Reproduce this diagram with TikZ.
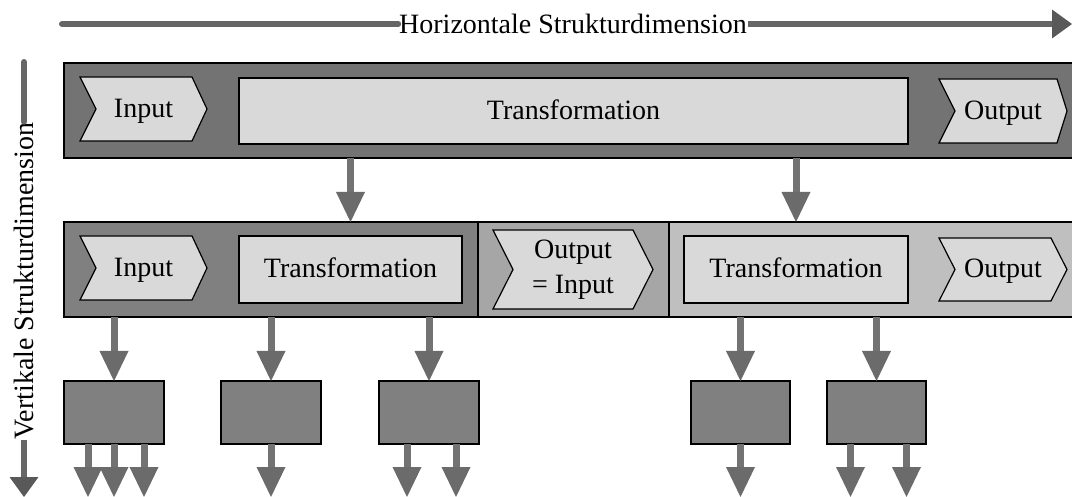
\documentclass[tikz,border=0pt]{standalone}
\usepackage{fontspec}
\setmainfont{Liberation Serif}
\usetikzlibrary{arrows.meta}

\definecolor{topband}{gray}{0.451}
\definecolor{lowband}{gray}{0.502}
\definecolor{midband}{gray}{0.651}
\definecolor{rightband}{gray}{0.749}
\definecolor{lightfill}{gray}{0.851}
\definecolor{flowgray}{gray}{0.45}
\definecolor{flowhead}{gray}{0.42}
\definecolor{axisgray}{gray}{0.40}
\definecolor{axishead}{gray}{0.35}

\tikzset{
  band/.style={draw=black, line width=1.2pt, inner sep=0pt, outer sep=0pt, anchor=north west},
  lightbox/.style={draw=black, line width=1.2pt, fill=lightfill},
  rectbox/.style={lightbox, inner sep=0pt, outer sep=0pt, anchor=north west},
  subbox/.style={draw=black, line width=1.2pt, fill=lowband, inner sep=0pt, outer sep=0pt, anchor=north west,
                 minimum width=100pt, minimum height=63pt},
  flow/.style={draw=flowgray, line width=7pt,
               -{Triangle[width=29pt,length=30pt,line width=0pt,color=flowhead]}},
  axisline/.style={draw=axisgray, line width=6pt},
  axisarrow/.style={axisline, -{Triangle[width=29pt,length=20pt,line width=0pt,color=axishead]}},
  axislabel/.style={inner sep=1pt, outer sep=0pt},
  label text/.style={inner sep=0pt, anchor=base, yshift=-8.5pt},
  multi text/.style={inner sep=0pt},
}

% chevron outline: name, x1, y1, x2, y2, notch depth, tip depth
\newcommand\chevronbox[7]{%
  \draw[lightbox] (#2,#3) -- ({#4-#7},#3) -- (#4,{(#3+#5)/2}) -- ({#4-#7},#5)
    -- (#2,#5) -- ({#2+#6},{(#3+#5)/2}) -- cycle;
  \coordinate (#1) at ({(#2+#4)/2},{(#3+#5)/2});
}

\begin{document}
\begin{tikzpicture}[x=1pt, y=-1pt, font=\fontsize{28}{35}\selectfont]
\useasboundingbox (0,0) rectangle (1072,497);
\clip (0,0) rectangle (1072,497);

% axes
\node[axislabel] (hlab) at (573,24) {Horizontale Strukturdimension};
\coordinate (hstart) at (62,24);
\coordinate (hend) at (1072,24);
\draw[axisline, line cap=round] (hstart) -- (hlab.west);
\draw[axisarrow] (hlab.east) -- (hend);

\node[axislabel, rotate=90] (vlab) at (24,281) {Vertikale Strukturdimension};
\coordinate (vstart) at (24,62);
\coordinate (vend) at (24,497);
\draw[axisline, line cap=round] (vstart) -- (vlab.east);
\draw[axisarrow] (vlab.west) -- (vend);

% top level process
\node[band, fill=topband, minimum width=1016pt, minimum height=95pt] (top) at (64,63) {};
\chevronbox{in1}{80}{77}{207}{141}{16}{15}
\node[label text] at (in1) {Input};
\node[rectbox, minimum width=669pt, minimum height=66pt] (t1) at (239,78) {};
\node[label text] at (t1.center) {Transformation};
\chevronbox{out1}{939}{79}{1067}{143}{16}{10}
\node[label text] at (out1) {Output};

% second level
\node[band, fill=lowband, minimum width=414pt, minimum height=95pt] (s1) at (64,222) {};
\node[band, fill=midband, minimum width=191pt, minimum height=95pt] (s2) at (478,222) {};
\node[band, fill=rightband, minimum width=411pt, minimum height=95pt] (s3) at (669,222) {};
\chevronbox{in2}{80}{236}{207}{300}{16}{15}
\node[label text] at (in2) {Input};
\node[rectbox, minimum width=223pt, minimum height=67pt] (t2) at (239,236) {};
\node[label text] at (t2.center) {Transformation};
\chevronbox{oi}{493}{230}{653}{309}{20}{20}
\node[multi text] at (oi) {\begin{tabular}{@{}c@{}}Output\\= Input\end{tabular}};
\node[rectbox, minimum width=224pt, minimum height=67pt] (t3) at (684,236) {};
\node[label text] at (t3.center) {Transformation};
\chevronbox{out3}{939}{238}{1067}{301}{16}{16}
\node[label text] at (out3) {Output};

\draw[flow] (t2.north |- top.south) -- (t2.north |- s1.north);
\draw[flow] (t3.north |- top.south) -- (t3.north |- s3.north);

% third level
\node[subbox] (b1) at (64,381) {};
\node[subbox] (b2) at (221,381) {};
\node[subbox] (b3) at (379,381) {};
\node[subbox, minimum width=99pt] (b4) at (691,381) {};
\node[subbox, minimum width=99pt] (b5) at (827,381) {};

\draw[flow] (b1.north |- s1.south) -- (b1.north);
\draw[flow] (b2.north |- s1.south) -- (b2.north);
\draw[flow] (b3.north |- s1.south) -- (b3.north);
\draw[flow] (b4.north |- s3.south) -- (b4.north);
\draw[flow] (b5.north |- s3.south) -- (b5.north);

% outgoing flows
\coordinate (floor) at (0,497);
\draw[flow] ([xshift=-26pt]b1.south) -- ([xshift=-26pt]b1.south |- floor);
\draw[flow] (b1.south) -- (b1.south |- floor);
\draw[flow] ([xshift=30pt]b1.south) -- ([xshift=30pt]b1.south |- floor);
\draw[flow] (b2.south) -- (b2.south |- floor);
\draw[flow] ([xshift=-22pt]b3.south) -- ([xshift=-22pt]b3.south |- floor);
\draw[flow] ([xshift=27pt]b3.south) -- ([xshift=27pt]b3.south |- floor);
\draw[flow] (b4.south) -- (b4.south |- floor);
\draw[flow] ([xshift=-26pt]b5.south) -- ([xshift=-26pt]b5.south |- floor);
\draw[flow] ([xshift=30pt]b5.south) -- ([xshift=30pt]b5.south |- floor);
\end{tikzpicture}
\end{document}
